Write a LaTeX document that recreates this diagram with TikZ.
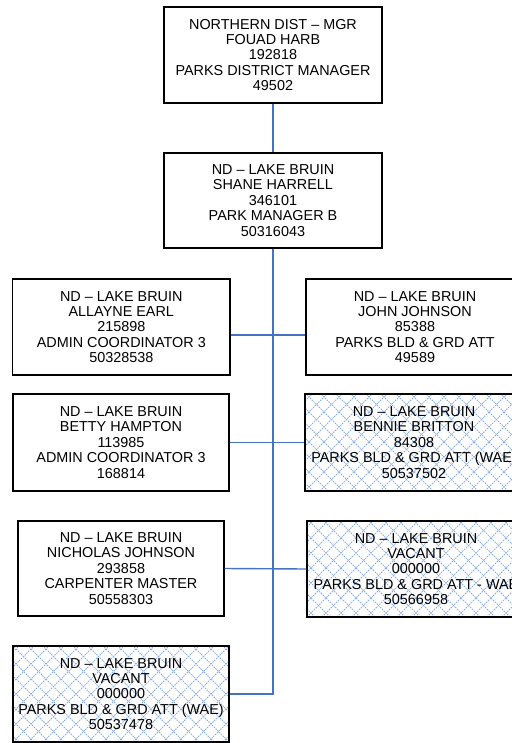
\documentclass[tikz,border=0pt]{standalone}
\usepackage{fontspec}
\setmainfont{Liberation Sans}
\begin{document}
\begin{tikzpicture}[x=1bp,y=-1bp,
  box/.style={draw=black, line width=1.4bp, fill=white, align=center, inner sep=0pt,
    minimum width=218bp, minimum height=96bp,
    font=\fontsize{14.4bp}{15.4bp}\selectfont},
  hatchline/.style={draw={rgb,255:red,140;green,175;blue,225}, line width=0.9bp, dash pattern=on 1.5bp off 1bp},
  hatched/.style={box, path picture={
    \foreach \i in {-9,...,18}{
      \draw[hatchline] ([xshift=\i*15bp]path picture bounding box.south west) -- ++(120bp,120bp);
      \draw[hatchline] ([xshift=-\i*15bp]path picture bounding box.south east) -- ++(-120bp,120bp);
    }}},
  conn/.style={draw={rgb,255:red,70;green,114;blue,196}, line width=1.4bp}
]
\useasboundingbox (0,0) rectangle (512,743);
\clip (0,0) rectangle (512,743);

\node[box] (top) at (273,55) {NORTHERN DIST – MGR\\FOUAD HARB\\192818\\PARKS DISTRICT MANAGER\\49502};
\node[box, minimum height=95bp] (b2) at (273,200.5) {ND – LAKE BRUIN\\SHANE HARRELL\\346101\\PARK MANAGER B\\50316043};

\node[box, minimum width=217bp] (L1) at (121.3,327) {ND – LAKE BRUIN\\ALLAYNE EARL\\215898\\ADMIN COORDINATOR 3\\50328538};
\node[box] (R1) at (415,327) {ND – LAKE BRUIN\\JOHN JOHNSON\\85388\\PARKS BLD \& GRD ATT\\49589};

\node[box, minimum width=216bp, minimum height=97bp] (L2) at (121,442.5) {ND – LAKE BRUIN\\BETTY HAMPTON\\113985\\ADMIN COORDINATOR 3\\168814};
\node[hatched, minimum height=97bp] (R2) at (414,442.5) {ND – LAKE BRUIN\\BENNIE BRITTON\\84308\\PARKS BLD \& GRD ATT (WAE)\\50537502};

\node[box, minimum width=206bp, minimum height=95bp] (L3) at (121,568.5) {ND – LAKE BRUIN\\NICHOLAS JOHNSON\\293858\\CARPENTER MASTER\\50558303};
\node[hatched] (R3) at (416,569) {ND – LAKE BRUIN\\VACANT\\000000\\PARKS BLD \& GRD ATT - WAE\\50566958};

\node[hatched, minimum width=216bp] (L4) at (121,694) {ND – LAKE BRUIN\\VACANT\\000000\\PARKS BLD \& GRD ATT (WAE)\\50537478};

\draw[conn] (top.south) -- (b2.north);
\draw[conn] (b2.south) |- (L4.east);
\draw[conn] ([yshift=-8bp]L1.east) -- ([yshift=-8bp]R1.west);
\draw[conn] (L2.east) -- (R2.west);
\draw[conn] (L3.east) -- (R3.west);
\end{tikzpicture}
\end{document}
